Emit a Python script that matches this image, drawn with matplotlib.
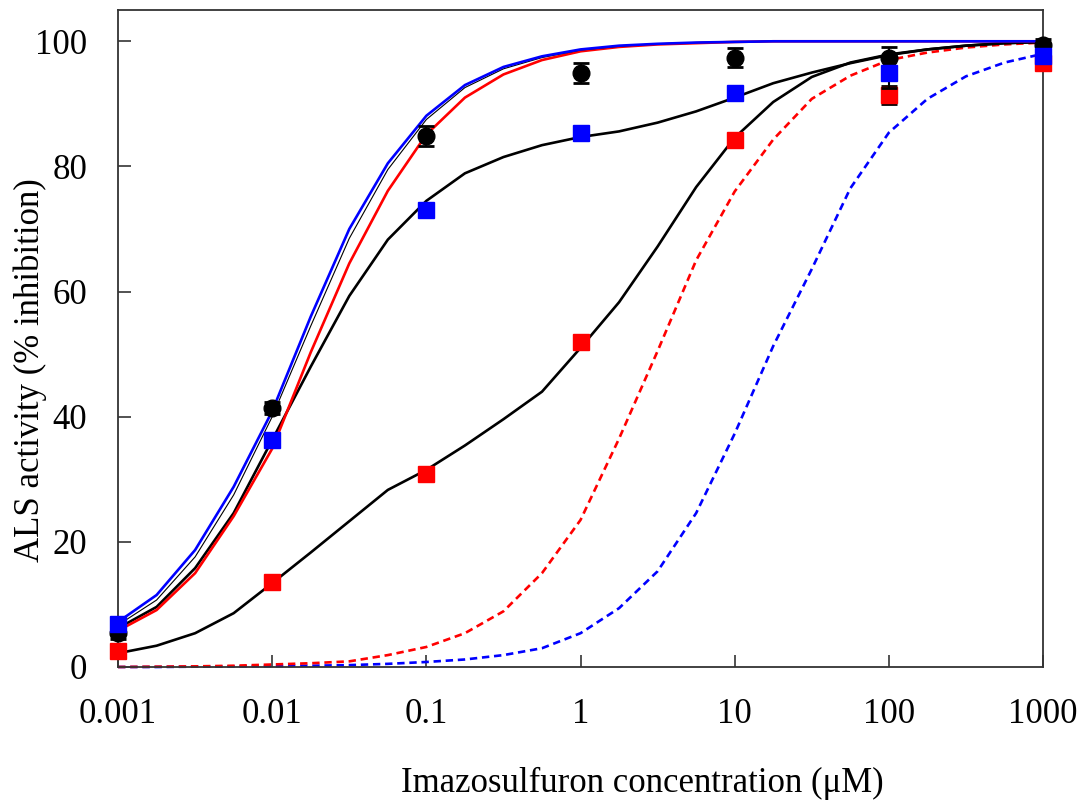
import numpy as np
import matplotlib
matplotlib.use("Agg")
import matplotlib.pyplot as plt
from matplotlib.ticker import FixedLocator, FixedFormatter, NullLocator

plt.rcParams['font.family'] = ['Liberation Serif', 'DejaVu Serif']

# ---- measured data points ----
conc = [0.001, 0.01, 0.1, 1, 10, 100, 1000]
black_pts = [5.4, 41.4, 84.8, 94.9, 97.4, 97.4, 99.4]
black_err = [1.0, 1.0, 1.6, 1.6, 1.5, 1.7, 1.0]
blue_pts = [6.9, 36.3, 73.0, 85.3, 91.8, 95.0, 97.6]
blue_err = [0, 0, 0, 0, 0.8, 2.5, 1.0]
red_pts = [2.6, 13.6, 30.9, 52.0, 84.3, 91.4, 96.6]
red_err = [0, 0, 0, 0, 0, 1.5, 0.8]

# ---- fitted curves read at quarter-decade steps (0.001 .. 1000) ----
curve_conc = np.logspace(-3, 3, 25)
blue_fast = [7.2, 11.5, 18.7, 28.8, 40.9, 56.0, 70.0, 80.5, 88.1, 93.0, 95.9, 97.6, 98.7,
             99.3, 99.6, 99.8, 99.9, 100, 100, 100, 100, 100, 100, 100, 100]
black_thin = [6.7, 10.7, 17.6, 27.5, 40.0, 54.5, 68.5, 79.5, 87.5, 92.6, 95.6, 97.4, 98.6,
              99.2, 99.6, 99.8, 99.9, 100, 100, 100, 100, 100, 100, 100, 100]
red_fast = [5.8, 9.1, 15.0, 24.1, 34.9, 50.3, 64.5, 76.1, 85.1, 91.0, 94.7, 97.0, 98.4,
            99.1, 99.5, 99.7, 99.9, 100, 100, 100, 100, 100, 100, 100, 100]
black_blue_fit = [6.2, 9.6, 15.8, 24.6, 36.3, 48.0, 59.3, 68.3, 74.5, 78.9, 81.5, 83.4, 84.7,
                  85.6, 87.0, 88.8, 91.0, 93.3, 95.0, 96.5, 97.8, 98.7, 99.3, 99.7, 99.9]
black_red_fit = [2.2, 3.4, 5.4, 8.6, 13.4, 18.3, 23.3, 28.3, 31.5, 35.4, 39.6, 44.0, 51.0,
                 58.3, 67.2, 76.7, 84.6, 90.3, 94.3, 96.6, 97.9, 98.7, 99.3, 99.7, 99.9]
red_dashed = [0.0, 0.05, 0.1, 0.2, 0.4, 0.6, 0.9, 1.9, 3.2, 5.4, 8.9, 15.0, 23.5,
              36.5, 50.5, 65.0, 76.0, 84.3, 90.8, 94.5, 97.0, 98.2, 99.0, 99.5, 99.8]
blue_dashed = [0.0, 0.0, 0.05, 0.1, 0.15, 0.2, 0.3, 0.5, 0.8, 1.2, 1.9, 3.0, 5.4,
               9.4, 15.3, 24.6, 37.3, 51.3, 63.6, 76.5, 85.4, 90.8, 94.4, 96.6, 98.0]

xticks = [0.001, 0.01, 0.1, 1, 10, 100, 1000]
xticklabels = ['0.001', '0.01', '0.1', '1', '10', '100', '1000']
yticks = [0, 20, 40, 60, 80, 100]
yticklabels = ['0', '20', '40', '60', '80', '100']

fig = plt.figure(figsize=(10.84, 8.07), dpi=100)
ax = fig.add_axes([0.1089, 0.1735, 0.8533, 0.8141])
ax.set_xscale('log')

lw = 1.9
ax.plot(curve_conc, blue_dashed, color='#0000ff', lw=lw, dashes=(2.8, 1.8), zorder=2)
ax.plot(curve_conc, red_dashed, color='#ff0000', lw=lw, dashes=(2.8, 1.8), zorder=2)
ax.plot(curve_conc, black_red_fit, color='black', lw=lw, zorder=2)
ax.plot(curve_conc, black_blue_fit, color='black', lw=lw, zorder=2)
ax.plot(curve_conc, red_fast, color='#ff0000', lw=lw, zorder=2)
ax.plot(curve_conc, black_thin, color='black', lw=0.8, zorder=2)
ax.plot(curve_conc, blue_fast, color='#0000ff', lw=lw, zorder=2)

ms = 12
ekw = dict(ecolor='black', elinewidth=1.5, capsize=5.5, capthick=2, clip_on=False)
ax.errorbar(conc, red_pts, yerr=red_err, fmt='s', color='#ff0000', ms=ms, mec='#ff0000',
            zorder=3, **ekw)
ax.errorbar(conc, black_pts, yerr=black_err, fmt='o', color='black', ms=ms,
            zorder=4, **ekw)
ax.errorbar(conc, blue_pts, yerr=blue_err, fmt='s', color='#0000ff', ms=ms, mec='#0000ff',
            zorder=5, **ekw)
for art in ax.lines:
    art.set_clip_on(False)

ax.set_xlim(0.001, 1000)
ax.set_ylim(0, 105)
ax.xaxis.set_major_locator(FixedLocator(xticks))
ax.xaxis.set_major_formatter(FixedFormatter(xticklabels))
ax.xaxis.set_minor_locator(NullLocator())
ax.yaxis.set_major_locator(FixedLocator(yticks))
ax.yaxis.set_major_formatter(FixedFormatter(yticklabels))

ax.tick_params(axis='both', direction='in', length=9, width=1.3, labelsize=25,
               pad=22, top=False, right=False, color='#444444')
for s in ax.spines.values():
    s.set_linewidth(1.3)
    s.set_color('#333333')

fig.text(642 / 1084, 1 - 783 / 807, 'Imazosulfuron concentration (μM)', fontsize=25,
         ha='center', va='center')
fig.text(30 / 1084, 1 - 370 / 807, 'ALS activity (% inhibition)', fontsize=25,
         ha='center', va='center', rotation=90)

fig.savefig('out.png', dpi=100)
